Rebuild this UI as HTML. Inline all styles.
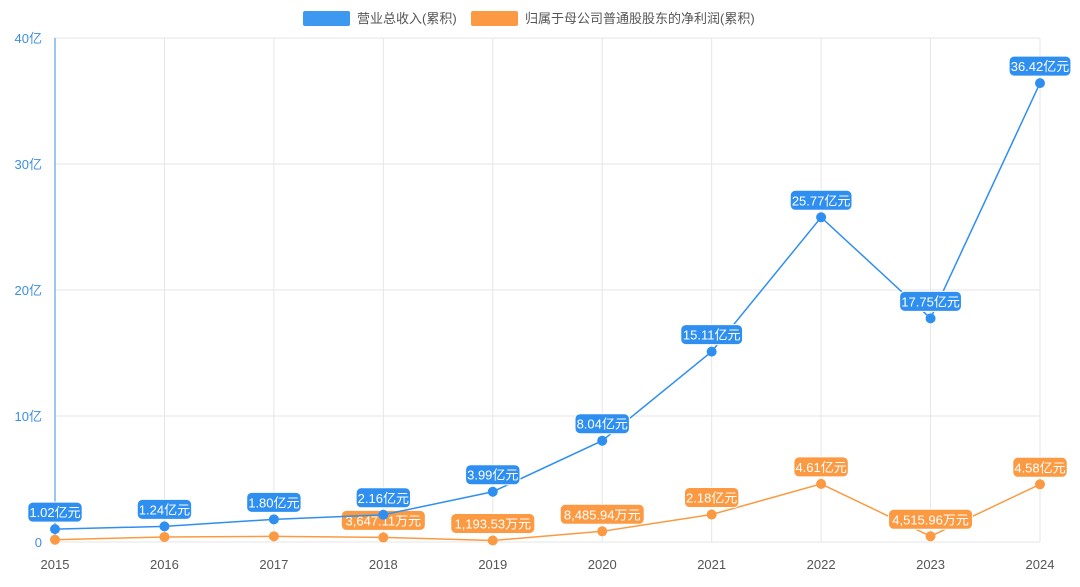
<!DOCTYPE html>
<html><head><meta charset="utf-8"><style>
html,body{margin:0;padding:0;background:#fff;width:1080px;height:587px;overflow:hidden}
svg{font-family:"Liberation Sans","Noto Sans CJK SC",sans-serif}
</style></head><body>
<svg id="c" width="1080" height="587">
<g>
<g><rect x="303" y="11" width="47" height="15" rx="2" fill="#3d98f0"/><text x="357" y="23" font-size="13" fill="#555">营业总收入(累积)</text></g>
<g><rect x="471" y="11" width="47" height="15" rx="2" fill="#fb9a42"/><text x="525" y="23" font-size="13" fill="#555">归属于母公司普通股股东的净利润(累积)</text></g>
</g>
</svg>
<script>
const categories=['2015','2016','2017','2018','2019','2020','2021','2022','2023','2024'];
const revenue=[1.02,1.24,1.80,2.16,3.99,8.04,15.11,25.77,17.75,36.42];
const revenueLabels=['1.02亿元','1.24亿元','1.80亿元','2.16亿元','3.99亿元','8.04亿元','15.11亿元','25.77亿元','17.75亿元','36.42亿元'];
const profit=[0.18,0.4,0.45,0.3647,0.1194,0.8486,2.18,4.61,0.4516,4.58];
const profitLabels=[null,null,null,'3,647.11万元','1,193.53万元','8,485.94万元','2.18亿元','4.61亿元','4,515.96万元','4.58亿元'];
const yTicks=[0,10,20,30,40];
const yTickLabels=['0','10亿','20亿','30亿','40亿'];
const svg=document.getElementById('c');const NS='http://www.w3.org/2000/svg';
const L=55,R=1040,T=38,B=542;
const x=i=>L+(R-L)*i/(categories.length-1);
const y=v=>B-(B-T)*v/40;
function mk(t,a,p){const e=document.createElementNS(NS,t);for(const k in a)e.setAttribute(k,a[k]);(p||svg).appendChild(e);return e;}
const grid=mk('g',{});


yTicks.forEach((v,i)=>{
  const l=mk('line',{x1:L,x2:R,y1:y(v),y2:y(v),stroke:'#e6e6e6'},grid);
  
  
  const t=mk('text',{x:L-13,y:y(v)+5,'font-size':13,fill:'#3d8fe0','text-anchor':'end'},grid);
  t.textContent=yTickLabels[i];
  
  
});
categories.forEach((c,i)=>{
  const l=mk('line',{x1:x(i),x2:x(i),y1:T,y2:B,stroke:'#e6e6e6'},grid);
  
  
  const t=mk('text',{x:x(i),y:569,'font-size':13,fill:'#555','text-anchor':'middle'},grid);
  t.textContent=c;
  
  
});
mk('line',{x1:L,x2:L,y1:T,y2:B,stroke:'#3d8fe0'},grid);
function series(vals,labels,color,name){
  const g=mk('g',{});
  
  
  const p=mk('polyline',{points:vals.map((v,i)=>x(i)+','+y(v)).join(' '),fill:'none',stroke:color,'stroke-width':1.5},g);
  
  
  vals.forEach((v,i)=>{
    const c=mk('circle',{cx:x(i),cy:y(v),r:5,fill:color},g);
    
    
  });
  vals.forEach((v,i)=>{
    if(!labels[i])return;
    const lg=mk('g',{},g);
    
    
    const w=labels[i].length*7.4+10;
    const cy=y(v)-17;
    mk('rect',{x:x(i)-w/2,y:cy-10,width:w,height:20,rx:5,fill:color,stroke:'#fff','stroke-width':1},lg);
    const t=mk('text',{x:x(i),y:cy+5,'font-size':13,fill:'#fff','text-anchor':'middle'},lg);
    t.textContent=labels[i];
  });
}
series(profit,profitLabels,'#fb9a42','net-profit');
series(revenue,revenueLabels,'#2f8ff0','revenue');
</script>
</body></html>
